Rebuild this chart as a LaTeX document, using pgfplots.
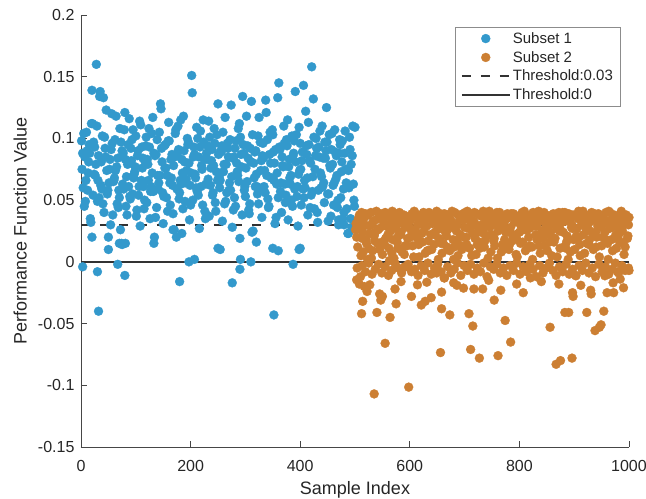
\documentclass[border=0pt]{standalone}
\usepackage{pgfplots}
\pgfplotsset{compat=1.18}
\usepackage{fontspec}
\setmainfont{Liberation Sans}
\definecolor{cblue}{RGB}{51,153,204}
\definecolor{corange}{RGB}{204,127,51}
\definecolor{axgray}{RGB}{70,70,70}
\definecolor{txtgray}{RGB}{38,38,38}
\definecolor{thr}{RGB}{50,50,50}
\pgfplotsset{mylegend/.style={legend image code/.code={\draw[mark repeat=2,mark phase=2,##1] plot coordinates {(0pt,0pt) (24pt,0pt) (48pt,0pt)};}}}
\begin{document}
\begin{tikzpicture}
\begin{axis}[
  name=ax,
  scale only axis,
  width=548pt, height=432pt,
  xmin=0, xmax=1000, ymin=-0.15, ymax=0.2,
  axis lines*=left,
  clip=false,
  axis line style={draw=axgray, line width=0.7pt},
  tick style={draw=axgray, line width=0.7pt},
  tick align=inside,
  major tick length=6pt,
  xtick={0,200,400,600,800,1000},
  xticklabels={0,200,400,600,800,1000},
  ytick={-0.15,-0.1,-0.05,0,0.05,0.1,0.15,0.2},
  yticklabels={-0.15,-0.1,-0.05,0,0.05,0.1,0.15,0.2},
  scaled ticks=false,
  ticklabel style={font=\fontsize{16}{18}\selectfont, text=txtgray},
  xticklabel style={anchor=base, yshift=-25pt},
  yticklabel style={anchor=east, xshift=-3pt},
  xlabel={Sample Index},
  ylabel={Performance Function Value},
  label style={font=\fontsize{18}{20}\selectfont, text=txtgray},
  xlabel style={at={(axis description cs:0.5,-0.111)}, anchor=base},
  ylabel style={at={(axis description cs:-0.111,0.5)}, anchor=center},
  legend style={at={(axis description cs:0.984,0.972)}, anchor=north east,
    draw=black!45, fill=white, line width=0.6pt,
    font=\fontsize{15}{17}\selectfont, text=txtgray,
    cells={anchor=west}, row sep=2.5pt, inner xsep=5pt, inner ysep=3pt},
  mylegend,
]
\addplot[only marks, mark=*, color=cblue, mark size=4.5pt, mark options={solid, draw=cblue, fill=cblue, line width=0.3pt}, mylegend]
coordinates {
(1,0.098)(4,0.060)(7,0.085)(10,0.105)(13,0.072)(16,0.088)(19,0.112)(22,0.054)(25,0.093)(28,0.160)
(31,0.066)(34,0.134)(37,0.081)(40,0.047)(43,0.101)(46,0.123)(49,0.058)(52,0.075)(55,0.091)(58,0.038)
(61,0.068)(64,0.118)(67,0.084)(70,0.052)(73,0.097)(76,0.063)(79,0.107)(82,0.045)(85,0.079)(88,0.116)
(91,0.092)(94,0.055)(97,0.071)(100,0.102)(103,0.086)(106,0.061)(109,0.111)(112,0.076)(115,0.043)(118,0.094)
(121,0.083)(124,0.108)(127,0.057)(130,0.072)(133,0.088)(136,0.036)(139,0.099)(142,0.064)(145,0.128)(148,0.081)
(151,0.053)(154,0.095)(157,0.070)(160,0.113)(163,0.046)(166,0.087)(169,0.078)(172,0.104)(175,0.059)(178,0.091)
(181,0.066)(184,0.083)(187,0.118)(190,0.049)(193,0.074)(196,0.097)(199,0.062)(202,0.151)(205,0.085)(208,0.071)
(211,0.109)(214,0.054)(217,0.093)(220,0.078)(223,0.115)(226,0.041)(229,0.088)(232,0.067)(235,0.101)(238,0.082)
(241,0.056)(244,0.096)(247,0.073)(250,0.128)(253,0.060)(256,0.089)(259,0.105)(262,0.047)(265,0.079)(268,0.092)
(271,0.064)(274,0.127)(277,0.084)(280,0.052)(283,0.098)(286,0.070)(289,0.112)(292,0.087)(295,0.134)(298,0.058)
(301,0.076)(304,0.094)(307,0.039)(310,0.081)(313,0.103)(316,0.068)(319,0.090)(322,0.055)(325,0.117)(328,0.074)
(331,0.086)(334,0.061)(337,0.131)(340,0.099)(343,0.045)(346,0.080)(349,0.107)(352,0.066)(355,0.091)(358,0.072)
(361,0.145)(364,0.057)(367,0.085)(370,0.110)(373,0.048)(376,0.094)(379,0.077)(382,0.063)(385,0.102)(388,0.088)
(391,0.138)(394,0.053)(397,0.071)(400,0.096)(403,0.082)(406,0.143)(409,0.060)(412,0.087)(415,0.113)(418,0.044)
(421,0.158)(424,0.132)(427,0.075)(430,0.092)(433,0.058)(436,0.106)(439,0.069)(442,0.084)(445,0.097)(448,0.125)
(451,0.033)(454,0.078)(457,0.091)(460,0.062)(463,0.107)(466,0.086)(469,0.050)(472,0.099)(475,0.073)(478,0.035)
(481,0.088)(484,0.064)(487,0.023)(490,0.101)(493,0.079)(496,0.110)(499,0.045)
(2,0.075)(5,0.104)(8,0.049)(11,0.090)(14,0.081)(17,0.035)(20,0.139)(23,0.097)(26,0.070)(29,0.110)
(32,0.086)(35,0.138)(38,0.059)(41,0.133)(44,0.092)(47,0.074)(50,0.020)(53,0.083)(56,0.120)(59,0.065)
(62,0.099)(65,0.077)(68,0.044)(71,0.108)(74,0.015)(77,0.088)(80,0.121)(83,0.069)(86,0.095)(89,0.053)
(92,0.082)(95,0.107)(98,0.073)(101,0.037)(104,0.090)(107,0.114)(110,0.066)(113,0.084)(116,0.050)(119,0.101)
(122,0.079)(125,0.093)(128,0.061)(131,0.117)(134,0.020)(137,0.087)(140,0.070)(143,0.105)(146,0.124)(149,0.056)
(152,0.094)(155,0.076)(158,0.041)(161,0.098)(164,0.083)(167,0.062)(170,0.026)(173,0.107)(176,0.088)(179,0.051)
(182,0.115)(185,0.072)(188,0.090)(191,0.064)(194,0.100)(197,0.080)(200,0.046)(203,0.137)(206,0.093)(209,0.068)
(212,0.057)(215,0.085)(218,0.106)(221,0.075)(224,0.097)(227,0.035)(230,0.083)(233,0.114)(236,0.062)(239,0.091)
(242,0.078)(245,0.048)(248,0.103)(251,0.087)(254,0.066)(257,0.094)(260,0.073)(263,0.117)(266,0.056)(269,0.085)
(272,0.099)(275,0.069)(278,0.042)(281,0.092)(284,0.080)(287,0.108)(290,0.019)(293,0.077)(296,0.095)(299,0.061)
(302,0.118)(305,0.084)(308,0.047)(311,0.130)(314,0.025)(317,0.089)(320,0.071)(323,0.102)(326,0.059)(329,0.082)
(332,0.096)(335,0.074)(338,0.121)(341,0.051)(344,0.087)(347,0.068)(350,0.103)(353,0.080)(356,0.036)(359,0.133)
(362,0.093)(365,0.064)(368,0.078)(371,0.096)(374,0.054)(377,0.115)(380,0.083)(383,0.070)(386,0.045)(389,0.098)
(392,0.081)(395,0.061)(398,0.109)(401,0.075)(404,0.089)(407,0.052)(410,0.122)(413,0.068)(416,0.095)(419,0.080)
(422,0.057)(425,0.101)(428,0.086)(431,0.040)(434,0.093)(437,0.072)(440,0.110)(443,0.064)(446,0.084)(449,0.097)
(452,0.055)(455,0.076)(458,0.104)(461,0.046)(464,0.089)(467,0.070)(470,0.030)(473,0.095)(476,0.081)(479,0.059)
(482,0.106)(485,0.043)(488,0.074)(491,0.091)(494,0.028)(497,0.063)(500,0.109)
(3,0.088)(9,0.066)(15,0.095)(21,0.112)(27,0.079)(33,0.052)(39,0.102)(45,0.085)(51,0.064)(57,0.096)
(63,0.074)(69,0.058)(75,0.090)(81,0.083)(87,0.061)(93,0.099)(99,0.077)(105,0.054)(111,0.093)(117,0.081)
(123,0.066)(129,0.104)(135,0.086)(141,0.059)(147,0.092)(153,0.076)(159,0.098)(165,0.068)(171,0.085)(177,0.110)
(183,0.063)(189,0.081)(195,0.095)(201,0.072)(207,0.087)(213,0.100)(219,0.061)(225,0.083)(231,0.094)(237,0.076)
(243,0.108)(249,0.066)(255,0.090)(261,0.079)(267,0.096)(273,0.058)(279,0.085)(285,0.073)(291,0.101)(297,0.088)
(303,0.065)(309,0.092)(315,0.080)(321,0.061)(327,0.097)(333,0.084)(339,0.070)(345,0.105)(351,0.089)(357,0.063)
(363,0.091)(369,0.077)(375,0.099)(381,0.068)(387,0.086)(393,0.103)(399,0.074)(405,0.059)(411,0.094)(417,0.082)
(423,0.069)(429,0.100)(435,0.085)(441,0.061)(447,0.090)(453,0.103)(459,0.079)(465,0.067)(471,0.088)(477,0.098)
(483,0.075)(489,0.060)(495,0.086)
(6,0.045)(12,0.058)(18,0.032)(24,0.071)(30,0.049)(36,0.062)(42,0.040)(48,0.055)(54,0.030)(60,0.066)
(66,0.047)(72,0.026)(78,0.059)(84,0.038)(90,0.051)(96,0.068)(102,0.042)(108,0.029)(114,0.061)(120,0.048)
(126,0.035)(132,0.057)(138,0.044)(144,0.070)(150,0.031)(156,0.052)(162,0.064)(168,0.039)(174,0.020)(180,0.056)
(186,0.043)(192,0.067)(198,0.034)(204,0.050)(210,0.060)(216,0.027)(222,0.046)(228,0.063)(234,0.037)(240,0.054)
(246,0.041)(252,0.069)(258,0.033)(264,0.049)(270,0.058)(276,0.028)(282,0.045)(288,0.065)(294,0.038)(300,0.053)
(306,0.042)(312,0.024)(318,0.061)(324,0.047)(330,0.036)(336,0.056)(342,0.044)(348,0.068)(354,0.031)(360,0.052)
(366,0.040)(372,0.063)(378,0.034)(384,0.050)(390,0.059)(396,0.029)(402,0.046)(408,0.066)(414,0.038)(420,0.054)
(426,0.043)(432,0.032)(438,0.060)(444,0.048)(450,0.055)(456,0.037)(462,0.064)(468,0.044)(474,0.052)(480,0.040)
(486,0.061)(492,0.035)(498,0.050)
(3,-0.004)(30,-0.008)(32,-0.040)(50,0.010)(67,-0.002)(70,0.015)(80,-0.011)(81,0.015)(133,0.015)(180,-0.016)
(197,0.000)(207,0.002)(254,0.010)(276,-0.017)(290,-0.006)(291,0.002)(310,0.000)(320,0.016)(352,-0.043)(360,0.009)
(387,-0.002)(398,0.010)(20,0.020)(75,0.014)(168,0.026)(184,0.023)(250,0.011)(350,0.011)(400,0.011)(488,0.023)
(480,0.030)(470,0.034)
};
\addlegendentry{Subset 1}
\addplot[only marks, mark=*, color=corange, mark size=4.5pt, mark options={solid, draw=corange, fill=corange, line width=0.3pt}, mylegend]
coordinates {
(502,0.031)(505,0.012)(508,0.038)(511,0.005)(514,0.024)(517,0.036)(520,0.018)(523,0.002)(526,0.029)(529,0.040)
(532,0.009)(535,0.021)(538,0.034)(541,0.015)(544,0.027)(547,0.039)(550,0.006)(553,0.032)(556,0.019)(559,0.037)
(562,0.011)(565,0.025)(568,0.041)(571,0.003)(574,0.030)(577,0.016)(580,0.035)(583,0.022)(586,0.008)(589,0.038)
(592,0.028)(595,0.013)(598,0.033)(601,0.020)(604,0.039)(607,0.004)(610,0.026)(613,0.036)(616,0.014)(619,0.031)
(622,0.023)(625,0.040)(628,0.007)(631,0.029)(634,0.017)(637,0.037)(640,0.010)(643,0.033)(646,0.024)(649,0.041)
(652,0.002)(655,0.027)(658,0.035)(661,0.015)(664,0.030)(667,0.021)(670,0.038)(673,0.009)(676,0.032)(679,0.018)
(682,0.040)(685,0.025)(688,0.005)(691,0.034)(694,0.013)(697,0.039)(700,0.028)(703,0.020)(706,0.036)(709,0.011)
(712,0.031)(715,0.023)(718,0.040)(721,0.006)(724,0.029)(727,0.016)(730,0.037)(733,0.026)(736,0.012)(739,0.034)
(742,0.021)(745,0.041)(748,0.008)(751,0.030)(754,0.019)(757,0.038)(760,0.003)(763,0.027)(766,0.035)(769,0.014)
(772,0.032)(775,0.024)(778,0.039)(781,0.010)(784,0.028)(787,0.017)(790,0.036)(793,0.022)(796,0.004)(799,0.033)
(802,0.015)(805,0.040)(808,0.026)(811,0.009)(814,0.031)(817,0.020)(820,0.038)(823,0.012)(826,0.029)(829,0.035)
(832,0.018)(835,0.041)(838,0.007)(841,0.025)(844,0.033)(847,0.013)(850,0.037)(853,0.022)(856,0.030)(859,0.005)
(862,0.039)(865,0.019)(868,0.027)(871,0.036)(874,0.011)(877,0.032)(880,0.024)(883,0.040)(886,0.016)(889,0.002)
(892,0.034)(895,0.028)(898,0.038)(901,0.010)(904,0.021)(907,0.035)(910,0.014)(913,0.030)(916,0.041)(919,0.007)
(922,0.026)(925,0.037)(928,0.018)(931,0.033)(934,0.023)(937,0.039)(940,0.012)(943,0.029)(946,0.004)(949,0.036)
(952,0.020)(955,0.031)(958,0.040)(961,0.015)(964,0.027)(967,0.034)(970,0.009)(973,0.038)(976,0.022)(979,0.030)
(982,0.017)(985,0.039)(988,0.025)(991,0.006)(994,0.033)(997,0.019)(1000,0.036)
(503,0.020)(506,0.035)(509,0.027)(512,0.040)(515,0.008)(518,0.030)(521,0.015)(524,0.038)(527,0.023)(530,0.003)
(533,0.033)(536,0.017)(539,0.041)(542,0.026)(545,0.010)(548,0.035)(551,0.029)(554,0.014)(557,0.039)(560,0.022)
(563,0.001)(566,0.032)(569,0.018)(572,0.036)(575,0.027)(578,0.011)(581,0.040)(584,0.024)(587,0.031)(590,0.006)
(593,0.037)(596,0.019)(599,0.028)(602,0.034)(605,0.013)(608,0.041)(611,0.021)(614,0.030)(617,0.004)(620,0.038)
(623,0.016)(626,0.025)(629,0.035)(632,0.009)(635,0.040)(638,0.022)(641,0.031)(644,0.014)(647,0.037)(650,0.026)
(653,0.019)(656,0.039)(659,0.007)(662,0.033)(665,0.024)(668,0.012)(671,0.036)(674,0.028)(677,0.041)(680,0.002)
(683,0.030)(686,0.017)(689,0.038)(692,0.022)(695,0.010)(698,0.034)(701,0.040)(704,0.014)(707,0.027)(710,0.035)
(713,0.005)(716,0.032)(719,0.019)(722,0.039)(725,0.024)(728,0.011)(731,0.030)(734,0.041)(737,0.017)(740,0.036)
(743,0.003)(746,0.028)(749,0.022)(752,0.038)(755,0.013)(758,0.033)(761,0.025)(764,0.040)(767,0.008)(770,0.030)
(773,0.018)(776,0.036)(779,0.027)(782,0.014)(785,0.039)(788,0.021)(791,0.032)(794,0.006)(797,0.037)(800,0.024)
(803,0.029)(806,0.016)(809,0.041)(812,0.034)(815,0.011)(818,0.027)(821,0.035)(824,0.002)(827,0.039)(830,0.022)
(833,0.031)(836,0.013)(839,0.037)(842,0.019)(845,0.040)(848,0.028)(851,0.009)(854,0.035)(857,0.024)(860,0.038)
(863,0.016)(866,0.031)(869,0.004)(872,0.040)(875,0.026)(878,0.036)(881,0.012)(884,0.033)(887,0.021)(890,0.039)
(893,0.008)(896,0.030)(899,0.018)(902,0.037)(905,0.027)(908,0.041)(911,0.005)(914,0.034)(917,0.022)(920,0.038)
(923,0.015)(926,0.031)(929,0.025)(932,0.040)(935,0.010)(938,0.035)(941,0.020)(944,0.039)(947,0.028)(950,0.013)
(953,0.036)(956,0.024)(959,0.033)(962,0.002)(965,0.040)(968,0.018)(971,0.029)(974,0.037)(977,0.011)(980,0.034)
(983,0.026)(986,0.041)(989,0.015)(992,0.031)(995,0.038)(998,0.021)
(501,0.026)(507,0.033)(513,0.019)(519,0.039)(525,0.011)(531,0.030)(537,0.024)(543,0.036)(549,0.016)(555,0.040)
(561,0.028)(567,0.007)(573,0.034)(579,0.021)(585,0.038)(591,0.013)(597,0.031)(603,0.025)(609,0.040)(615,0.018)
(621,0.035)(627,0.029)(633,0.009)(639,0.037)(645,0.022)(651,0.032)(657,0.015)(663,0.039)(669,0.026)(675,0.034)
(681,0.012)(687,0.030)(693,0.037)(699,0.020)(705,0.041)(711,0.027)(717,0.033)(723,0.014)(729,0.038)(735,0.023)
(741,0.031)(747,0.036)(753,0.017)(759,0.040)(765,0.028)(771,0.010)(777,0.035)(783,0.024)(789,0.039)(795,0.019)
(801,0.032)(807,0.037)(813,0.026)(819,0.013)(825,0.040)(831,0.029)(837,0.034)(843,0.021)(849,0.038)(855,0.016)
(861,0.031)(867,0.036)(873,0.025)(879,0.040)(885,0.011)(891,0.033)(897,0.027)(903,0.038)(909,0.020)(915,0.035)
(921,0.030)(927,0.014)(933,0.039)(939,0.024)(945,0.032)(951,0.037)(957,0.018)(963,0.041)(969,0.028)(975,0.034)
(981,0.022)(987,0.036)(993,0.012)(999,0.030)
(504,-0.005)(510,-0.012)(513,-0.003)(519,-0.008)(525,-0.001)(531,-0.010)(537,-0.006)(543,-0.002)(549,-0.009)(555,-0.004)
(561,-0.011)(567,-0.007)(573,-0.001)(579,-0.005)(585,-0.009)(591,-0.004)(597,-0.002)(603,-0.008)(609,-0.006)(615,-0.011)
(621,-0.003)(627,-0.007)(633,-0.001)(639,-0.010)(645,-0.005)(651,-0.002)(657,-0.008)(663,-0.013)(669,-0.004)(675,-0.009)
(681,-0.006)(687,-0.001)(693,-0.011)(699,-0.003)(705,-0.007)(711,-0.002)(717,-0.010)(723,-0.005)(729,-0.008)(735,-0.001)
(741,-0.012)(747,-0.004)(753,-0.006)(759,-0.002)(765,-0.009)(771,-0.005)(777,-0.011)(783,-0.003)(789,-0.007)(795,-0.001)
(801,-0.010)(807,-0.004)(813,-0.008)(819,-0.002)(825,-0.006)(831,-0.012)(837,-0.003)(843,-0.009)(849,-0.005)(855,-0.001)
(861,-0.007)(867,-0.011)(873,-0.004)(879,-0.008)(885,-0.002)(891,-0.010)(897,-0.006)(903,-0.011)(909,-0.003)(915,-0.007)
(921,-0.001)(927,-0.009)(933,-0.005)(939,-0.012)(945,-0.002)(951,-0.008)(957,-0.004)(963,-0.010)(969,-0.006)(975,-0.001)
(981,-0.009)(987,-0.003)(993,-0.007)(999,-0.005)
(535,-0.107)(598,-0.1015)(555,-0.066)(656,-0.0735)(711,-0.071)(727,-0.078)(761,-0.076)(784,-0.065)(856,-0.053)(867,-0.083)
(875,-0.080)(896,-0.078)(938,-0.0557)(946,-0.053)(949,-0.051)(954,-0.040)(923,-0.041)(883,-0.041)(890,-0.041)(774,-0.0475)
(715,-0.052)(708,-0.042)(673,-0.043)(658,-0.038)(621,-0.035)(603,-0.028)(639,-0.029)(564,-0.045)(540,-0.041)(512,-0.042)
(514,-0.032)(547,-0.031)(575,-0.034)(573,-0.022)(522,-0.024)(503,-0.0146)(527,-0.0186)(614,-0.0186)(631,-0.0165)(658,-0.0245)
(663,-0.013)(649,-0.009)(698,-0.0213)(717,-0.022)(733,-0.022)(754,-0.031)(766,-0.023)(795,-0.018)(807,-0.025)(872,-0.018)
(897,-0.025)(898,-0.028)(903,-0.0113)(930,-0.023)(931,-0.026)(956,-0.0113)(971,-0.017)(972,-0.025)(960,-0.025)(1000,-0.007)
(979,-0.008)(591,-0.0043)(508,-0.018)(517,-0.020)(545,-0.026)(550,-0.028)(584,-0.016)(680,-0.017)(744,-0.015)(820,-0.013)
(840,-0.016)(912,-0.019)(984,-0.014)(990,-0.021)(628,-0.032)(686,-0.019)
};
\addlegendentry{Subset 2}
\addplot[color=thr, line width=2.2pt, dash pattern=on 9.5pt off 9.5pt, mylegend] coordinates {(0,0.03) (1000,0.03)};
\addlegendentry{Threshold:0.03}
\addplot[color=thr, line width=2.2pt, mylegend] coordinates {(0,0) (1000,0)};
\addlegendentry{Threshold:0}
\end{axis}
\pgfresetboundingbox
\path[use as bounding box] ([shift={(-81pt,-52pt)}]ax.south west) rectangle ([shift={(17pt,15pt)}]ax.north east);
\end{tikzpicture}
\end{document}
